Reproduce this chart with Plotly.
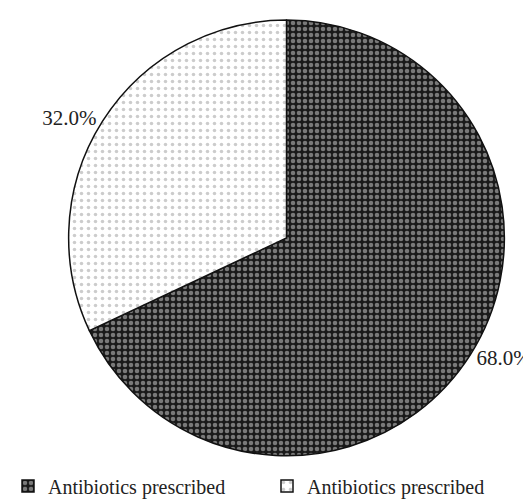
import plotly.graph_objects as go

labels = ["Antibiotics prescribed", "Antibiotics prescribed "]
values = [68.0, 32.0]

fig = go.Figure(go.Pie(
    labels=labels,
    values=values,
    sort=False,
    direction="clockwise",
    rotation=0,
    texttemplate="%{value:.1f}%",
    textposition="outside",
    textfont=dict(family="Liberation Serif", size=21, color="#222"),
    marker=dict(
        colors=["#333333", "#ffffff"],
        line=dict(color="#111111", width=1.5),
        pattern=dict(
            shape=[".", "."],
            bgcolor=["#1a1a1a", "#ffffff"],
            fgcolor=["#d8d8d8", "#9a9a9a"],
            size=[6, 7],
            solidity=[0.45, 0.2],
            fillmode="overlay",
        ),
    ),
    domain=dict(x=[0.114, 0.935], y=[0.108, 0.976]),
    showlegend=True,
))

fig.update_layout(
    width=531, height=502,
    margin=dict(l=0, r=0, t=0, b=0),
    paper_bgcolor="white",
    plot_bgcolor="white",
    font=dict(family="Liberation Serif", size=20, color="#222"),
    legend=dict(
        orientation="h",
        x=0, y=0.048,
        xanchor="left", yanchor="middle",
        entrywidth=214, entrywidthmode="pixels",
        font=dict(family="Liberation Serif", size=20, color="#222"),
        itemwidth=30,
    ),
)

fig.write_html("out.html")
